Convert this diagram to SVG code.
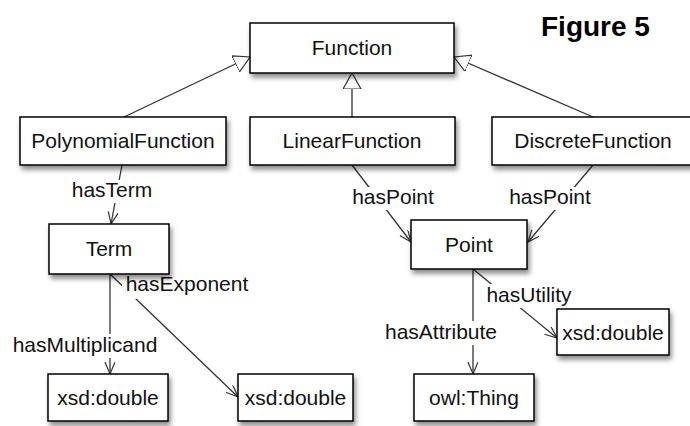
<svg xmlns="http://www.w3.org/2000/svg" width="690" height="426" viewBox="0 0 690 426">
  <defs>
    <filter id="shadow" x="-10%" y="-20%" width="130%" height="160%">
      <feDropShadow dx="2" dy="4" stdDeviation="2.5" flood-color="#000" flood-opacity="0.45"/>
    </filter>
    <!-- hollow triangle for subclass links -->
    <marker id="gen" markerUnits="userSpaceOnUse" markerWidth="18" markerHeight="20" refX="16" refY="9" orient="auto">
      <path d="M0,0 L16,9 L0,18 Z" fill="#fff" stroke="#333" stroke-width="1.2"/>
    </marker>
    <!-- open arrowhead for properties -->
    <marker id="arr" markerUnits="userSpaceOnUse" markerWidth="14" markerHeight="12" refX="12" refY="5" orient="auto">
      <path d="M0,0 L12,5 L0,10" fill="none" stroke="#333" stroke-width="1.2"/>
    </marker>
  </defs>
  <style>
    .box { fill: #fff; stroke: #000; stroke-width: 1.5; filter: url(#shadow); }
    .txt { font-family: "Liberation Sans", Arial, sans-serif; font-size: 21px; fill: #111; text-anchor: middle; }
    .title { font-family: "Liberation Sans", Arial, sans-serif; font-size: 28px; font-weight: bold; fill: #000; }
    .edge { stroke: #333; stroke-width: 1.3; fill: none; }
    .gen { marker-end: url(#gen); }
    .prop { marker-end: url(#arr); }
    .lbg { fill: #fff; }
  </style>
  <rect width="690" height="426" fill="#fff"/>

  <text class="title" x="541" y="36">Figure 5</text>

  <g id="connectors">
    <line class="edge gen" x1="124" y1="117" x2="250" y2="57"/>
    <line class="edge gen" x1="352" y1="117" x2="352" y2="73"/>
    <line class="edge gen" x1="593" y1="117" x2="454" y2="57"/>
    <line class="edge prop" x1="122" y1="165" x2="111" y2="224"/>
    <line class="edge prop" x1="352" y1="165" x2="411" y2="242"/>
    <line class="edge prop" x1="593" y1="165" x2="528" y2="242"/>
    <line class="edge prop" x1="110" y1="274" x2="238" y2="397"/>
    <line class="edge prop" x1="110" y1="274" x2="110" y2="374"/>
    <line class="edge prop" x1="473" y1="269" x2="473" y2="374"/>
    <line class="edge prop" x1="473" y1="269" x2="557" y2="338"/>

    <rect class="lbg" x="68" y="180" width="88" height="23"/>
    <text class="txt" x="112" y="197">hasTerm</text>
    <rect class="lbg" x="349" y="187" width="88" height="23"/>
    <text class="txt" x="393" y="204">hasPoint</text>
    <rect class="lbg" x="506" y="187" width="88" height="23"/>
    <text class="txt" x="550" y="204">hasPoint</text>
    <rect class="lbg" x="122" y="273" width="131" height="26"/>
    <text class="txt" x="187" y="291">hasExponent</text>
    <rect class="lbg" x="10" y="334" width="150" height="24"/>
    <text class="txt" x="85" y="352">hasMultiplicand</text>
    <rect class="lbg" x="383" y="321" width="116" height="24"/>
    <text class="txt" x="441" y="339">hasAttribute</text>
    <rect class="lbg" x="485" y="284" width="88" height="24"/>
    <text class="txt" x="529" y="302">hasUtility</text>
  </g>

  <g id="node-function">
    <rect class="box" x="250" y="23" width="204" height="50"/>
    <text class="txt" x="352" y="55">Function</text>
  </g>
  <g id="node-polynomial">
    <rect class="box" x="20" y="117" width="206" height="48"/>
    <text class="txt" x="123" y="148">PolynomialFunction</text>
  </g>
  <g id="node-linear">
    <rect class="box" x="250" y="117" width="205" height="48"/>
    <text class="txt" x="352" y="148">LinearFunction</text>
  </g>
  <g id="node-discrete">
    <rect class="box" x="492" y="117" width="202" height="48"/>
    <text class="txt" x="593" y="148">DiscreteFunction</text>
  </g>
  <g id="node-term">
    <rect class="box" x="49" y="224" width="120" height="50"/>
    <text class="txt" x="109" y="256">Term</text>
  </g>
  <g id="node-point">
    <rect class="box" x="411" y="220" width="116" height="49"/>
    <text class="txt" x="469" y="252">Point</text>
  </g>
  <g id="node-utility">
    <rect class="box" x="557" y="309" width="112" height="46"/>
    <text class="txt" x="613" y="340">xsd:double</text>
  </g>
  <g id="node-multiplicand">
    <rect class="box" x="48" y="374" width="120" height="47"/>
    <text class="txt" x="108" y="405">xsd:double</text>
  </g>
  <g id="node-exponent">
    <rect class="box" x="238" y="374" width="115" height="47"/>
    <text class="txt" x="295.5" y="405">xsd:double</text>
  </g>
  <g id="node-thing">
    <rect class="box" x="414" y="374" width="120" height="47"/>
    <text class="txt" x="474" y="405">owl:Thing</text>
  </g>
</svg>
